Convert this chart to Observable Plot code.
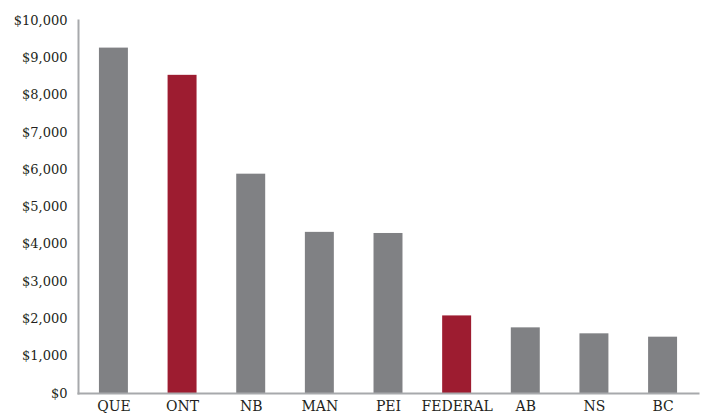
<!DOCTYPE html>
<html>
<head>
<meta charset="utf-8">
<script src="https://cdn.jsdelivr.net/npm/d3@7"></script>
<script src="https://cdn.jsdelivr.net/npm/@observablehq/plot@0.6"></script>
<style>
  html, body { margin: 0; padding: 0; background: #fff; }
  #chart svg { display: block; }
</style>
</head>
<body>
<div id="chart"></div>
<script>
// Jurisdictions, in the order they are shown
const jurisdictions = ["QUE", "ONT", "NB", "MAN", "PEI", "FEDERAL", "AB", "NS", "BC"];
// Amount per jurisdiction, in dollars
const amounts = [9260, 8530, 5880, 4320, 4290, 2080, 1760, 1600, 1510];
// Highlighted jurisdictions drawn in red
const highlighted = ["ONT", "FEDERAL"];
// Y-axis ticks
const yTicks = [0, 1000, 2000, 3000, 4000, 5000, 6000, 7000, 8000, 9000, 10000];

const rows = jurisdictions.map((name, i) => ({
  name,
  amount: amounts[i],
  group: highlighted.includes(name) ? "highlight" : "base"
}));

const chart = Plot.plot({
  width: 707,
  height: 413,
  marginTop: 20,
  marginBottom: 20,
  marginLeft: 78,
  marginRight: 9,
  style: { fontFamily: "'DejaVu Serif', serif", color: "#231f20", background: "#fff" },
  x: { domain: jurisdictions, paddingInner: 0.578, paddingOuter: 0.305, round: false, label: null },
  y: { domain: [0, 10000], label: null },
  color: { domain: ["base", "highlight"], range: ["#808184", "#9d1c30"] },
  marks: [
    Plot.barY(rows, { x: "name", y: "amount", fill: "group" }),
    Plot.frame({ anchor: "left", stroke: "#a7a9ac", strokeWidth: 2 }),
    Plot.frame({ anchor: "bottom", stroke: "#a7a9ac", strokeWidth: 2 }),
    Plot.axisY({
      ticks: yTicks,
      tickSize: 0,
      tickPadding: 11,
      fontSize: 13,
      tickFormat: d => "$" + d3.format(",")(d),
      label: null
    }),
    Plot.axisX({ tickSize: 0, tickPadding: 8, fontSize: 14, label: null })
  ]
});

document.getElementById("chart").appendChild(chart);
</script>
</body>
</html>
